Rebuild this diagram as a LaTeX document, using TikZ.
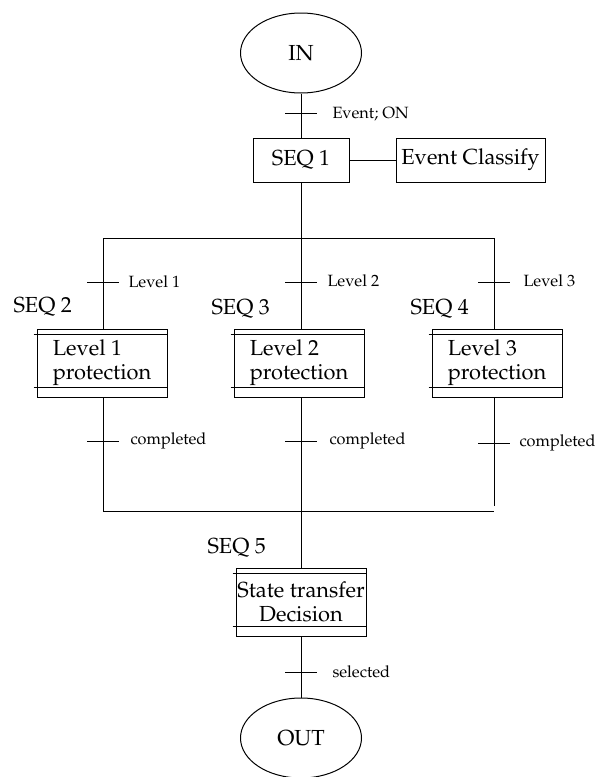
\documentclass[tikz,border=0pt]{standalone}
\usepackage[T1]{fontenc}
\usepackage{mathpazo}
\usetikzlibrary{shapes.geometric}
\tikzset{
  big/.style={font=\fontsize{21.8}{24}\selectfont},
  small/.style={font=\fontsize{16.3}{18}\selectfont, anchor=west, inner sep=0pt},
  seqlabel/.style={font=\fontsize{21.8}{24}\selectfont, anchor=west, inner sep=0pt},
  endnode/.style={ellipse, draw, big, minimum width=121pt, minimum height=80pt, inner sep=0pt},
  plainbox/.style={draw, big, minimum height=44pt, inner sep=1pt},
  stepbox/.style={draw, big, minimum width=130pt, minimum height=68pt, inner sep=1pt, align=left},
}
\newcommand{\dbl}[1]{%
  \draw ([shift={(-3pt,-6pt)}]#1.north west) -- ([yshift=-6pt]#1.north east);
  \draw ([shift={(-3pt,10pt)}]#1.south west) -- ([yshift=10pt]#1.south east);
}
\newcommand{\tick}[1]{\draw ([xshift=-16pt]#1) -- ([xshift=16pt]#1);}
\begin{document}
\begin{tikzpicture}[x=1pt,y=-1pt,line width=1pt]
\useasboundingbox (0,0) rectangle (596,777);
% nodes
\node[endnode] (in) at (301,53) {IN};
\node[plainbox, minimum width=96pt] (s1) at (301,160) {SEQ 1};
\node[plainbox, minimum width=149pt] (ec) at (470.5,160) {Event Classify};
\node[stepbox] (l1) at (102,363) {Level 1\\protection};
\node[stepbox] (l2) at (299,363) {Level 2\\protection};
\node[stepbox] (l3) at (497,363) {Level 3\\protection};
\node[stepbox, align=center] (s5) at (301,602) {State transfer\\Decision};
\node[endnode] (out) at (301,738) {OUT};
\dbl{l1}\dbl{l2}\dbl{l3}\dbl{s5}
% labels
\node[seqlabel] (q2) at (13,307) {SEQ 2};
\node[seqlabel] (q3) at (211,309) {SEQ 3};
\node[seqlabel] (q4) at (410,309) {SEQ 4};
\node[seqlabel] (q5) at (207,548) {SEQ 5};
% coordinates
\coordinate (t0) at (301,113);
\coordinate (j1) at (301,238);
\coordinate (jl) at (103,238);
\coordinate (jr) at (494,238);
\coordinate (ta) at (103,282);
\coordinate (tb) at (301,282);
\coordinate (tc) at (494,282);
\coordinate (ca) at (103,441);
\coordinate (cb) at (301,441);
\coordinate (cc) at (494,443);
\coordinate (bl) at (103,511);
\coordinate (bm) at (301,511);
\coordinate (br) at (494,511);
\coordinate (t5) at (301,672);
% connectors
\draw (in) -- (s1);
\draw (s1) -- (ec);
\draw (s1.south) -- (j1);
\draw (jl) -- (jr);
\draw (jl) -- (jl |- l1.north);
\draw (j1) -- (j1 |- l2.north);
\draw (jr) -- (jr |- l3.north);
\draw (jl |- l1.south) -- (bl);
\draw (j1 |- l2.south) -- (bm);
\draw (jr |- l3.south) -- ([yshift=5pt]br);
\draw (bl) -- (br);
\draw (bm) -- (s5.north);
\draw (s5.south) -- (out.north);
% ticks
\tick{t0}\tick{ta}\tick{tb}\tick{tc}\tick{ca}\tick{cb}\tick{cc}\tick{t5}
\node[small] (e0) at (332,114) {Event; ON};
\node[small] (ea) at (128,282) {Level 1};
\node[small] (eb) at (327,281) {Level 2};
\node[small] (ec2) at (523,281) {Level 3};
\node[small] (da) at (130,441) {completed};
\node[small] (db) at (329,441) {completed};
\node[small] (dc) at (519,443) {completed};
\node[small] (ds) at (332,672) {selected};
\end{tikzpicture}
\end{document}
